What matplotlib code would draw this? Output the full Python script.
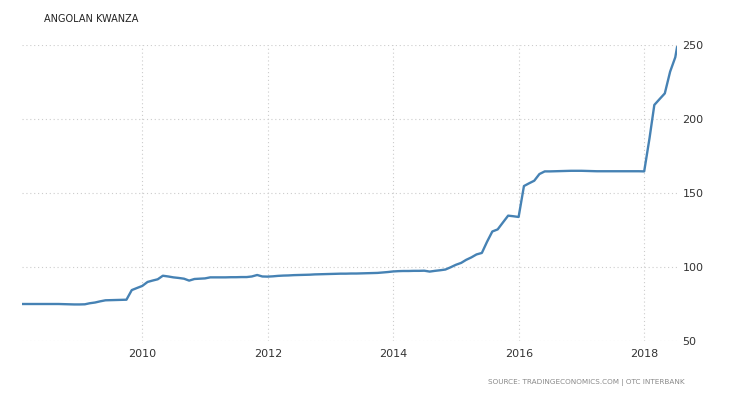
import matplotlib
matplotlib.use("Agg")
import matplotlib.pyplot as plt
import matplotlib.dates as mdates
import pandas as pd

# month-end observations, Jan 2008 .. Jun 2018, plus one July 2018 point
dates = list(pd.date_range("2008-01-31", "2018-06-30", freq="ME")) + [pd.Timestamp("2018-07-10")]

values = [
    75.0, 75.0, 75.0, 75.0, 75.0, 75.0, 75.0, 75.0, 74.9, 74.8, 74.7, 74.7,          # 2008
    74.8, 75.5, 76.0, 76.8, 77.5, 77.6, 77.7, 77.8, 77.9, 84.4, 85.8, 87.2,          # 2009
    89.9, 90.8, 91.7, 94.1, 93.6, 93.0, 92.6, 92.1, 90.8, 91.9, 92.1, 92.3,          # 2010
    93.0, 93.0, 93.0, 93.0, 93.1, 93.1, 93.2, 93.2, 93.6, 94.6, 93.6, 93.5,          # 2011
    93.7, 94.0, 94.2, 94.3, 94.5, 94.6, 94.7, 94.8, 95.0, 95.1, 95.2, 95.3,          # 2012
    95.4, 95.5, 95.5, 95.6, 95.6, 95.7, 95.8, 95.9, 96.0, 96.3, 96.6, 97.0,          # 2013
    97.2, 97.3, 97.3, 97.4, 97.4, 97.5, 96.9, 97.4, 97.8, 98.3, 99.8, 101.5,         # 2014
    102.8, 104.8, 106.5, 108.5, 109.5, 117.0, 124.0, 125.4, 130.0, 134.7, 134.3, 133.8,  # 2015
    154.7, 156.5, 158.3, 162.8, 164.6, 164.6, 164.7, 164.8, 164.9, 165.0, 165.0, 165.0,  # 2016
    164.9, 164.8, 164.7, 164.7, 164.7, 164.7, 164.7, 164.7, 164.7, 164.7, 164.7, 164.6,  # 2017
    187.0, 209.5, 213.5, 217.3, 232.0, 241.7,                                        # 2018
    248.4,
]

y_ticks = [50, 100, 150, 200, 250]
x_years = [2010, 2012, 2014, 2016, 2018]

fig = plt.figure(figsize=(7.3, 4), dpi=100)
ax = fig.add_axes([22 / 730, 59 / 400, 655 / 730, 296 / 400])

ax.plot(dates, values, color="#4682b4", linewidth=1.7, solid_joinstyle="round")

ax.set_xlim(dates[0], dates[-1])
ax.set_ylim(50, 250)
ax.set_yticks(y_ticks)
ax.set_xticks([pd.Timestamp(f"{y}-01-01") for y in x_years])
ax.xaxis.set_major_formatter(mdates.DateFormatter("%Y"))

ax.yaxis.tick_right()
ax.tick_params(axis="both", length=0, labelsize=8, colors="#333333")
ax.tick_params(axis="y", pad=4)
ax.tick_params(axis="x", pad=6)

ax.grid(True, color="#cccccc", linestyle=(0, (1, 2.5)), linewidth=0.8)
for s in ax.spines.values():
    s.set_visible(False)

fig.text(44 / 730, 1 - 19 / 400, "ANGOLAN KWANZA", fontsize=7.0, color="#222222",
         va="center", ha="left")
fig.text(685 / 730, 1 - 383 / 400, "SOURCE: TRADINGECONOMICS.COM | OTC INTERBANK",
         fontsize=5.2, color="#888888", va="center", ha="right")

fig.savefig("out.png", dpi=100)
